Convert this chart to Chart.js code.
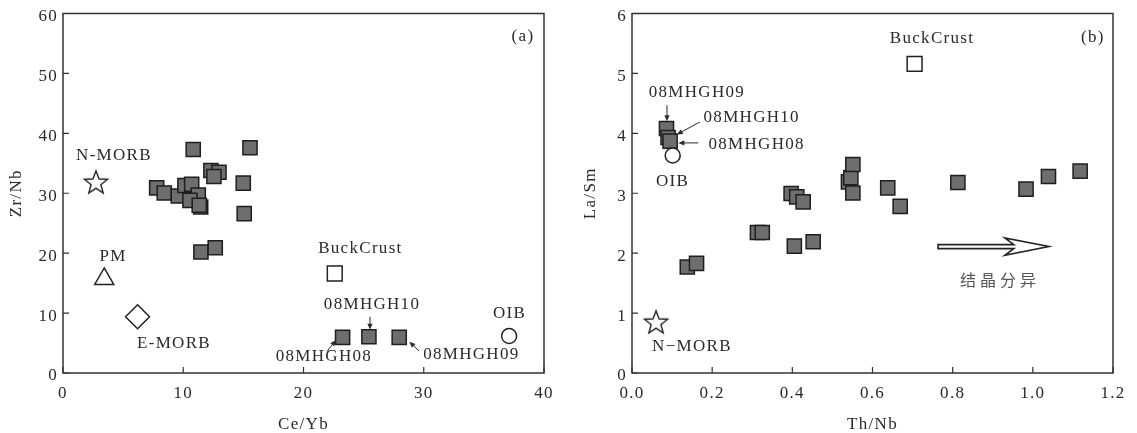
<!DOCTYPE html>
<html>
<head>
<meta charset="utf-8">
<script src="https://cdn.jsdelivr.net/npm/chart.js@4/dist/chart.umd.min.js"></script>
<style>
  html, body { margin: 0; padding: 0; background: #fff; }
  #wrap { position: relative; width: 1137px; height: 433px; }
  .box { position: absolute; top: 0; height: 433px; }
</style>
</head>
<body>
<div id="wrap">
  <div class="box" style="left:0;width:568px"><canvas id="chartA" width="568" height="433"></canvas></div>
  <div class="box" style="left:568px;width:569px"><canvas id="chartB" width="569" height="433"></canvas></div>
</div>
<script>
// (a) Ce/Yb vs Zr/Nb, samples (last three are 08MHGH08, 08MHGH10, 08MHGH09)
const ceYb = [10.83, 15.55, 12.3, 12.97, 12.55, 14.99, 7.79, 8.42, 9.59, 10.14, 10.7, 11.25, 10.56, 11.45, 11.33, 15.07, 11.47, 12.66, 23.25, 25.44, 27.96];
const zrNb = [37.3, 37.6, 33.8, 33.5, 32.8, 31.7, 30.9, 30.05, 29.55, 31.3, 31.5, 29.7, 28.8, 27.7, 28.0, 26.6, 20.2, 20.9, 5.95, 6.05, 5.95];
const refNamesA = ['N-MORB', 'PM', 'E-MORB', 'BuckCrust', 'OIB'];
const refCeYb = [2.74, 3.43, 6.2, 22.6, 37.1];
const refZrNb = [31.9, 15.7, 9.38, 16.6, 6.17];
const xTicksA = [0, 10, 20, 30, 40];
const yTicksA = [0, 10, 20, 30, 40, 50, 60];

// (b) Th/Nb vs La/Sm, samples (first three are 08MHGH09, 08MHGH10, 08MHGH08)
const thNb = [0.086, 0.09, 0.095, 0.138, 0.161, 0.313, 0.325, 0.397, 0.411, 0.427, 0.405, 0.452, 0.54, 0.546, 0.551, 0.551, 0.638, 0.669, 0.813, 0.983, 1.039, 1.118];
const laSm = [4.08, 3.93, 3.87, 1.77, 1.83, 2.345, 2.345, 2.995, 2.94, 2.855, 2.117, 2.19, 3.19, 3.26, 3.48, 3.005, 3.09, 2.78, 3.18, 3.07, 3.28, 3.37];
const refNamesB = ['N-MORB', 'OIB', 'BuckCrust'];
const refThNb = [0.06, 0.1015, 0.705];
const refLaSm = [0.855, 3.63, 5.16];
const xTicksB = [0, 0.2, 0.4, 0.6, 0.8, 1.0, 1.2];
const yTicksB = [0, 1, 2, 3, 4, 5, 6];

const serif = '"Liberation Serif", "Times New Roman", serif';
const ink = '#2a2a2a';

function makeStar() {
  const size = 28, c = document.createElement('canvas');
  c.width = c.height = size;
  const g = c.getContext('2d');
  const R = 12.2, r = R * 0.42, cx = size / 2, cy = size / 2 + 1.2;
  g.beginPath();
  for (let i = 0; i < 10; i++) {
    const a = -Math.PI / 2 + i * Math.PI / 5, rr = i % 2 ? r : R;
    g.lineTo(cx + rr * Math.cos(a), cy + rr * Math.sin(a));
  }
  g.closePath();
  g.fillStyle = '#fff'; g.fill();
  g.lineWidth = 1.4; g.strokeStyle = '#222'; g.stroke();
  return c;
}
const star = makeStar();

const markerFor = {
  'N-MORB': { style: star, r: 12 },
  'PM': { style: 'triangle', r: 11 },
  'E-MORB': { style: 'rectRot', r: 12 },
  'BuckCrust': { style: 'rect', r: 10.5 },
  'OIB': { style: 'circle', r: 7.5 }
};

function refDataset(names, xs, ys) {
  return {
    data: xs.map((v, i) => ({ x: v, y: ys[i] })),
    pointStyle: names.map(n => markerFor[n].style),
    pointRadius: names.map(n => markerFor[n].r),
    backgroundColor: '#fff', borderColor: '#222', borderWidth: 1.5, order: 0
  };
}
function sampleDataset(xs, ys) {
  return {
    data: xs.map((v, i) => ({ x: v, y: ys[i] })),
    pointStyle: 'rect', pointRadius: 10,
    backgroundColor: '#6e6e6e', borderColor: '#1e1e1e', borderWidth: 1.5, order: 1
  };
}

function arrow(ctx, x0, y0, x1, y1) {
  const a = Math.atan2(y1 - y0, x1 - x0), L = 6, W = 2.6;
  ctx.beginPath(); ctx.moveTo(x0, y0); ctx.lineTo(x1 - 4 * Math.cos(a), y1 - 4 * Math.sin(a)); ctx.stroke();
  ctx.beginPath();
  ctx.moveTo(x1, y1);
  ctx.lineTo(x1 - L * Math.cos(a) + W * Math.sin(a), y1 - L * Math.sin(a) - W * Math.cos(a));
  ctx.lineTo(x1 - L * Math.cos(a) - W * Math.sin(a), y1 - L * Math.sin(a) + W * Math.cos(a));
  ctx.closePath(); ctx.fill();
}

function hollowArrow(ctx, sx, tx, y) {
  ctx.beginPath();
  ctx.moveTo(sx, y - 2); ctx.lineTo(tx - 35, y - 2); ctx.lineTo(tx - 44, y - 8.7);
  ctx.lineTo(tx, y); ctx.lineTo(tx - 44, y + 8.7); ctx.lineTo(tx - 35, y + 2);
  ctx.lineTo(sx, y + 2); ctx.closePath();
  ctx.fillStyle = '#fff'; ctx.fill();
  ctx.lineWidth = 1.6; ctx.strokeStyle = '#222'; ctx.stroke();
}

const figure = {
  id: 'figure',
  beforeDraw(chart) { chart.ctx.letterSpacing = '1.3px'; },
  beforeDatasetsDraw(chart) {
    const { ctx, chartArea: a, scales: { x, y } } = chart;
    ctx.save();
    ctx.strokeStyle = '#333'; ctx.lineWidth = 1.5;
    ctx.strokeRect(a.left, a.top, a.right - a.left, a.bottom - a.top);
    ctx.lineWidth = 1.2;
    ctx.beginPath();
    x.ticks.forEach(t => { const px = x.getPixelForValue(t.value); ctx.moveTo(px, a.bottom); ctx.lineTo(px, a.bottom - 6); });
    y.ticks.forEach(t => { const py = y.getPixelForValue(t.value); ctx.moveTo(a.left, py); ctx.lineTo(a.left + 6, py); });
    ctx.stroke();
    ctx.restore();
  },
  afterDatasetsDraw(chart, args, opts) {
    const { ctx, scales: { x, y } } = chart;
    const X = v => x.getPixelForValue(v), Y = v => y.getPixelForValue(v);
    ctx.save();
    ctx.fillStyle = ink; ctx.strokeStyle = ink; ctx.lineWidth = 1;
    ctx.textAlign = 'center'; ctx.textBaseline = 'middle';
    ctx.font = '17px ' + serif;
    (opts.labels || []).forEach(l => ctx.fillText(l[0], X(l[1]), Y(l[2])));
    (opts.arrows || []).forEach(p => arrow(ctx, X(p[0]), Y(p[1]), X(p[2]), Y(p[3])));
    if (opts.trend) {
      hollowArrow(ctx, X(opts.trend[0]), X(opts.trend[1]), Y(opts.trend[2]));
      ctx.letterSpacing = '4px';
      ctx.fillStyle = '#555';
      ctx.font = '16px "Noto Sans CJK SC", sans-serif';
      ctx.fillText(opts.trend[3], X(opts.trend[4]), Y(opts.trend[5]));
    }
    ctx.restore();
  },
  afterDraw(chart) { chart.ctx.letterSpacing = '0px'; }
};

function axes(xMin, xMax, yMin, yMax, xTicks, yTicks, xTitle, yTitle, yWidth, yTitlePad, fmt) {
  const tickFont = { family: serif, size: 17 };
  return {
    x: {
      type: 'linear', min: xMin, max: xMax,
      afterBuildTicks: s => { s.ticks = xTicks.map(v => ({ value: v })); },
      afterFit: s => { s.height = 60; s.paddingLeft = 0; s.paddingRight = 0; },
      grid: { display: false, drawTicks: false }, border: { display: false },
      ticks: { font: tickFont, color: ink, padding: 10, maxRotation: 0, autoSkip: false, callback: fmt },
      title: { display: true, text: xTitle, color: ink, font: { family: serif, size: 17, lineHeight: 1 }, padding: { top: 0, bottom: 0 } }
    },
    y: {
      type: 'linear', min: yMin, max: yMax,
      afterBuildTicks: s => { s.ticks = yTicks.map(v => ({ value: v })); },
      afterFit: s => { s.width = yWidth; s.paddingTop = 0; s.paddingBottom = 0; },
      grid: { display: false, drawTicks: false }, border: { display: false },
      ticks: { font: tickFont, color: ink, padding: 5, labelOffset: 3, autoSkip: false },
      title: { display: true, text: yTitle, color: ink, font: { family: serif, size: 17, lineHeight: 1 }, padding: { top: yTitlePad, bottom: 0 } }
    }
  };
}

const common = {
  responsive: false, animation: false, devicePixelRatio: 1,
  layout: { padding: { left: 0, right: 24, top: 13, bottom: 0 } },
  plugins: { legend: { display: false }, tooltip: { enabled: false } }
};

new Chart(document.getElementById('chartA'), {
  type: 'scatter',
  data: { datasets: [refDataset(refNamesA, refCeYb, refZrNb), sampleDataset(ceYb, zrNb)] },
  plugins: [figure],
  options: {
    ...common,
    scales: axes(0, 40, 0, 60, xTicksA, yTicksA, 'Ce/Yb', 'Zr/Nb', 63, 8, v => String(v)),
    plugins: {
      ...common.plugins,
      figure: {
        labels: [
          ['N-MORB', 4.24, 36.3], ['PM', 4.16, 19.4], ['E-MORB', 9.23, 4.95],
          ['BuckCrust', 24.73, 20.8], ['08MHGH10', 25.7, 11.5], ['08MHGH08', 21.7, 2.7],
          ['08MHGH09', 33.96, 3.1], ['OIB', 37.14, 9.95], ['(a)', 38.25, 56.2]
        ],
        arrows: [[25.53, 9.4, 25.53, 7.2], [21.95, 3.6, 22.7, 5.5], [29.6, 3.7, 28.8, 5.2]]
      }
    }
  }
});

new Chart(document.getElementById('chartB'), {
  type: 'scatter',
  data: { datasets: [refDataset(refNamesB, refThNb, refLaSm), sampleDataset(thNb, laSm)] },
  plugins: [figure],
  options: {
    ...common,
    scales: axes(0, 1.2, 0, 6, xTicksB, yTicksB, 'Th/Nb', 'La/Sm', 64, 14.2, v => v.toFixed(1)),
    plugins: {
      ...common.plugins,
      figure: {
        labels: [
          ['BuckCrust', 0.7485, 5.58], ['(b)', 1.15, 5.605], ['08MHGH09', 0.162, 4.68],
          ['08MHGH10', 0.2987, 4.26], ['08MHGH08', 0.311, 3.81], ['OIB', 0.101, 3.19],
          ['N\u2212MORB', 0.1495, 0.44]
        ],
        arrows: [[0.0873, 4.47, 0.0873, 4.2], [0.1697, 4.19, 0.1115, 3.98], [0.1654, 3.84, 0.1155, 3.84]],
        trend: [0.7635, 1.04, 2.11, '结晶分异', 0.918, 1.55]
      }
    }
  }
});
</script>
</body>
</html>
